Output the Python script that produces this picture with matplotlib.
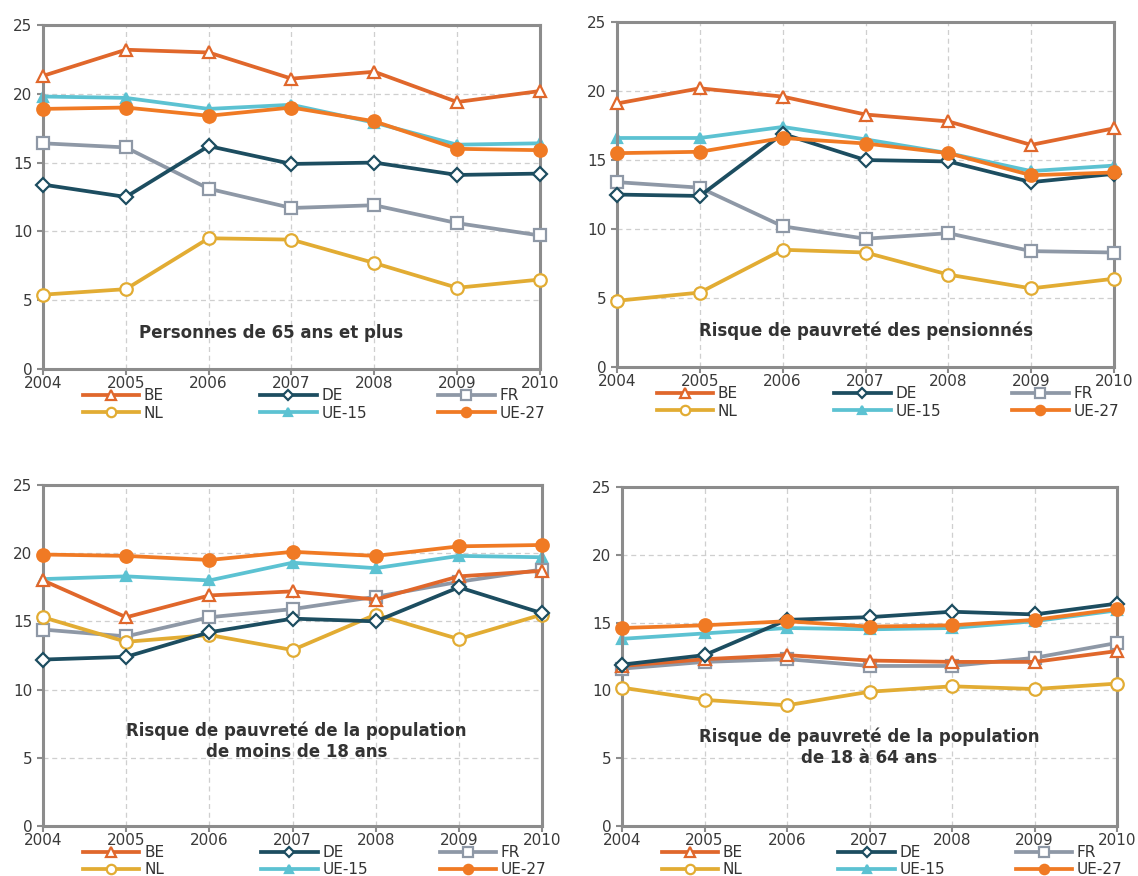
import matplotlib
matplotlib.use("Agg")
import matplotlib.pyplot as plt

plt.rcParams["font.family"] = ["DejaVu Sans"]

years = [2004, 2005, 2006, 2007, 2008, 2009, 2010]
series_names = ["BE", "DE", "FR", "NL", "UE-15", "UE-27"]

# Personnes de 65 ans et plus
p65_be = [21.3, 23.2, 23.0, 21.1, 21.6, 19.4, 20.2]
p65_de = [13.4, 12.5, 16.2, 14.9, 15.0, 14.1, 14.2]
p65_fr = [16.4, 16.1, 13.1, 11.7, 11.9, 10.6, 9.7]
p65_nl = [5.4, 5.8, 9.5, 9.4, 7.7, 5.9, 6.5]
p65_ue15 = [19.8, 19.7, 18.9, 19.2, 17.9, 16.3, 16.4]
p65_ue27 = [18.9, 19.0, 18.4, 19.0, 18.0, 16.0, 15.9]

# Pensionnés
pen_be = [19.1, 20.2, 19.6, 18.3, 17.8, 16.1, 17.3]
pen_de = [12.5, 12.4, 16.9, 15.0, 14.9, 13.4, 14.0]
pen_fr = [13.4, 13.0, 10.2, 9.3, 9.7, 8.4, 8.3]
pen_nl = [4.8, 5.4, 8.5, 8.3, 6.7, 5.7, 6.4]
pen_ue15 = [16.6, 16.6, 17.4, 16.5, 15.5, 14.2, 14.6]
pen_ue27 = [15.5, 15.6, 16.6, 16.2, 15.5, 13.9, 14.1]

# Moins de 18 ans
u18_be = [18.0, 15.3, 16.9, 17.2, 16.6, 18.3, 18.7]
u18_de = [12.2, 12.4, 14.2, 15.2, 15.0, 17.5, 15.6]
u18_fr = [14.4, 13.9, 15.3, 15.9, 16.8, 17.9, 18.8]
u18_nl = [15.3, 13.5, 14.0, 12.9, 15.5, 13.7, 15.5]
u18_ue15 = [18.1, 18.3, 18.0, 19.3, 18.9, 19.8, 19.7]
u18_ue27 = [19.9, 19.8, 19.5, 20.1, 19.8, 20.5, 20.6]

# 18 à 64 ans
a1864_be = [11.8, 12.3, 12.6, 12.2, 12.1, 12.1, 12.9]
a1864_de = [11.9, 12.6, 15.2, 15.4, 15.8, 15.6, 16.4]
a1864_fr = [11.6, 12.1, 12.3, 11.8, 11.8, 12.4, 13.5]
a1864_nl = [10.2, 9.3, 8.9, 9.9, 10.3, 10.1, 10.5]
a1864_ue15 = [13.8, 14.2, 14.6, 14.5, 14.6, 15.1, 15.9]
a1864_ue27 = [14.6, 14.8, 15.1, 14.7, 14.8, 15.2, 16.0]

panel_titles = [
    "Personnes de 65 ans et plus",
    "Risque de pauvreté des pensionnés",
    "Risque de pauvreté de la population\nde moins de 18 ans",
    "Risque de pauvreté de la population\nde 18 à 64 ans",
]

panels = [
    [p65_be, p65_de, p65_fr, p65_nl, p65_ue15, p65_ue27],
    [pen_be, pen_de, pen_fr, pen_nl, pen_ue15, pen_ue27],
    [u18_be, u18_de, u18_fr, u18_nl, u18_ue15, u18_ue27],
    [a1864_be, a1864_de, a1864_fr, a1864_nl, a1864_ue15, a1864_ue27],
]

styles = {
    "BE": dict(color="#e0672b", marker="^", mfc="white", ms=9, zorder=4),
    "DE": dict(color="#1c4d60", marker="D", mfc="white", ms=7, zorder=4),
    "FR": dict(color="#8e98a6", marker="s", mfc="white", ms=9, zorder=3),
    "NL": dict(color="#e2ac33", marker="o", mfc="white", ms=9, zorder=3),
    "UE-15": dict(color="#5cc2d2", marker="^", mfc="#5cc2d2", ms=7, zorder=2),
    "UE-27": dict(color="#f07a24", marker="o", mfc="#f07a24", ms=9, zorder=5),
}

# axes boxes [left, bottom, width, height] in figure fraction
boxes = [
    [0.0378, 0.5788, 0.4367, 0.3927],
    [0.5422, 0.5810, 0.4367, 0.3938],
    [0.0378, 0.0571, 0.4385, 0.3893],
    [0.5466, 0.0571, 0.4350, 0.3870],
]
text_pos = [(2006.75, 2.6), (2007.0, 2.6), (2007.05, 6.2), (2007.0, 5.8)]

fig = plt.figure(figsize=(11.38, 8.76), dpi=100)

for box, values, title, (tx, ty) in zip(boxes, panels, panel_titles, text_pos):
    ax = fig.add_axes(box)
    handles = {}
    for name, vals in zip(series_names, values):
        st = styles[name]
        (h,) = ax.plot(years, vals, color=st["color"], lw=2.7, marker=st["marker"],
                       markersize=st["ms"], markerfacecolor=st["mfc"],
                       markeredgecolor=st["color"], markeredgewidth=1.6,
                       zorder=st["zorder"], label=name, clip_on=False)
        handles[name] = h

    ax.set_xlim(2004, 2010)
    ax.set_ylim(0, 25)
    ax.set_xticks(years)
    ax.set_yticks([0, 5, 10, 15, 20, 25])
    ax.grid(True, color="#cfcfcf", linestyle=(0, (4, 3)), linewidth=0.9)
    ax.set_axisbelow(True)
    for sp in ax.spines.values():
        sp.set_color("#8c8c8c")
        sp.set_linewidth(2.2)
    ax.tick_params(colors="#8c8c8c", labelcolor="#3a3a3a", labelsize=11, length=4, width=1.5)
    ax.tick_params(axis="x", pad=1)

    ax.text(tx, ty, title, ha="center", va="center", fontsize=12, fontweight="bold",
            color="#333333", linespacing=1.25)

    # three legend columns, two rows each
    columns = [("BE", "NL"), ("DE", "UE-15"), ("FR", "UE-27")]
    col_x = [0.080, 0.437, 0.795]
    for i, (cx, pair) in enumerate(zip(col_x, columns)):
        leg = ax.legend([handles[n] for n in pair], list(pair), loc="upper left",
                        bbox_to_anchor=(cx, -0.056), frameon=False, fontsize=11,
                        handlelength=3.7, handletextpad=0.3, borderpad=0,
                        borderaxespad=0, labelspacing=0.15, markerscale=0.75)
        for t in leg.get_texts():
            t.set_color("#333333")
        if i < len(columns) - 1:
            ax.add_artist(leg)

fig.savefig("out.png", dpi=100, facecolor="white")
